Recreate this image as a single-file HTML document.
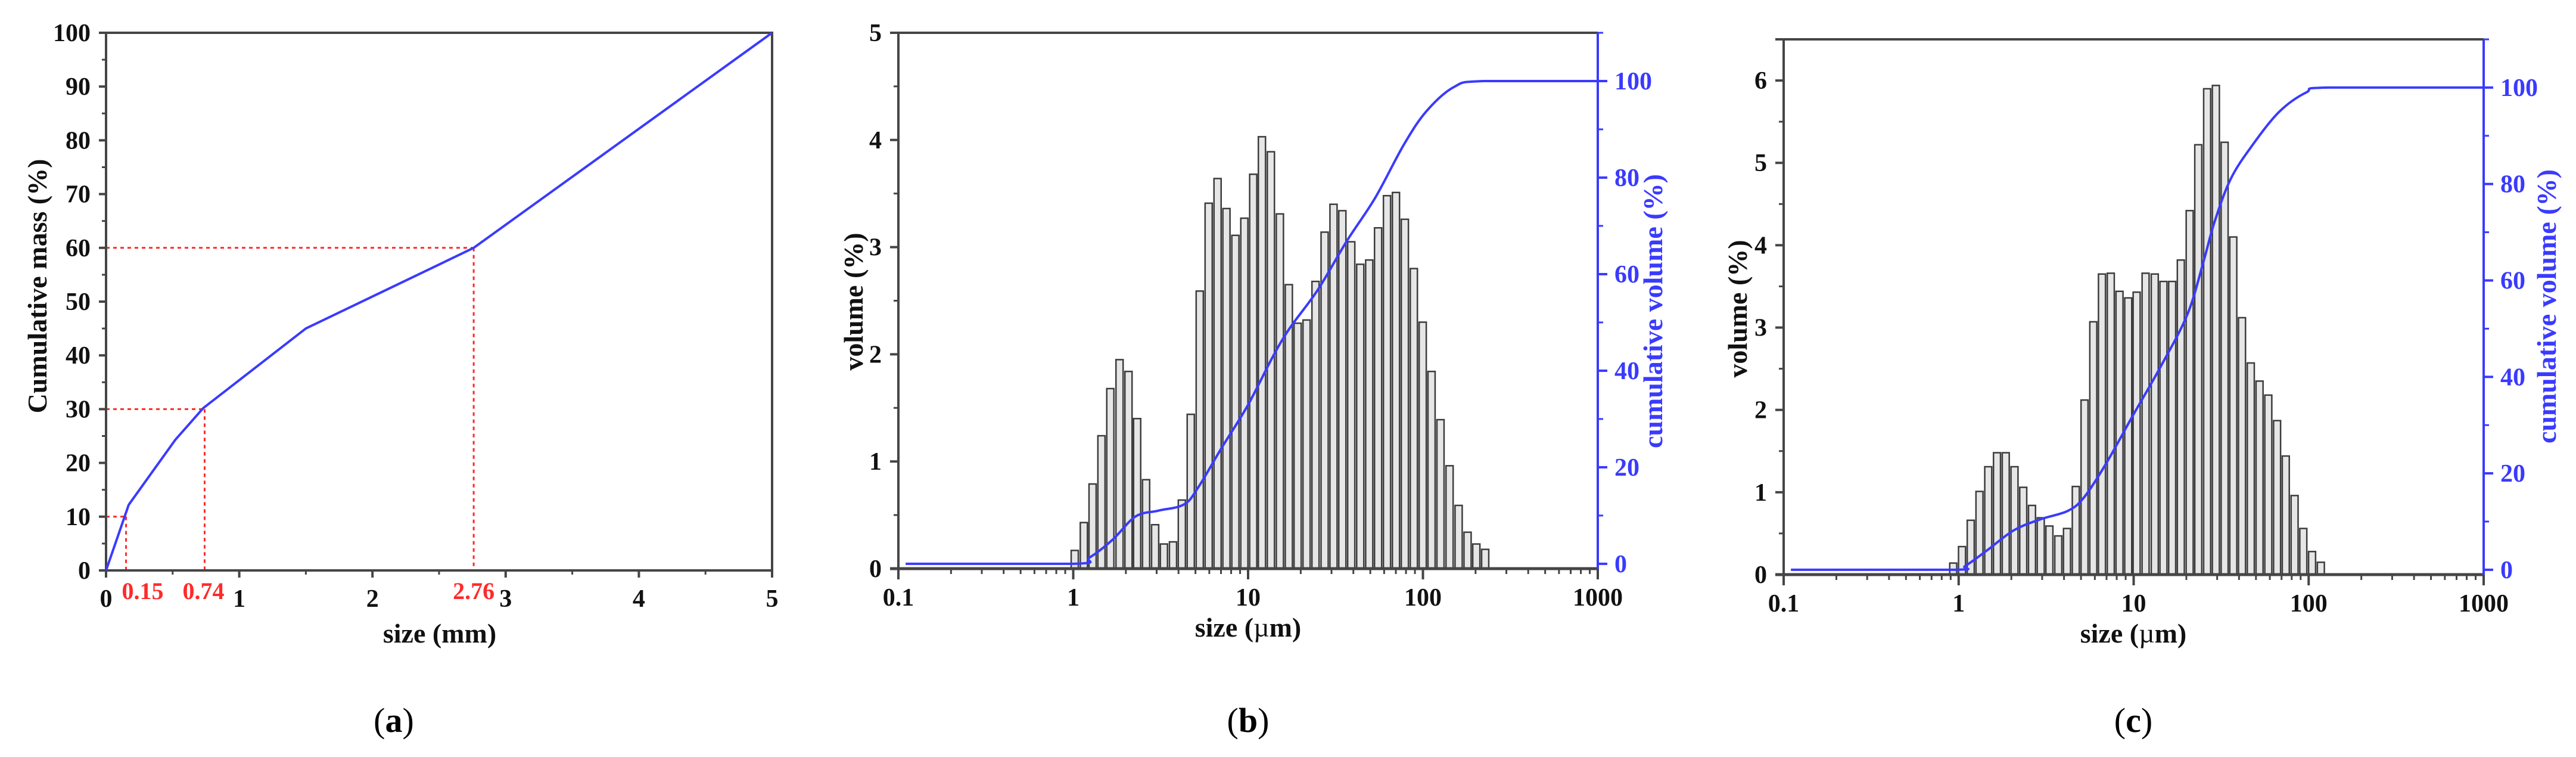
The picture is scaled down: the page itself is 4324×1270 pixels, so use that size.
<!DOCTYPE html>
<html><head><meta charset="utf-8"><style>
html,body{margin:0;padding:0;background:#fff;}
svg{display:block;font-family:"Liberation Serif",serif;}
</style></head><body>
<svg id="fig" width="4324" height="1270" viewBox="0 0 4324 1270" xmlns="http://www.w3.org/2000/svg">
<g id="pa"></g>
<g id="pb"></g>
<g id="pc"></g>
</svg>
<script>
// ---- Panel (a) data ----
const aSize = [0, 0.17, 0.52, 0.73, 1.5, 2.5, 2.76, 5];
const aMass = [0, 12.2, 24.3, 30.2, 45, 56.9, 60, 100];
const aMarkSize = [0.15, 0.74, 2.76];
const aMarkMass = [10, 30, 60];
const aXTicks = [0, 1, 2, 3, 4, 5];
const aYTicks = [0, 10, 20, 30, 40, 50, 60, 70, 80, 90, 100];

// ---- Panel (b) data ----
const bSizes = [1.02,1.15,1.29,1.45,1.63,1.84,2.07,2.32,2.61,2.94,3.30,3.72,4.18,4.70,5.29,5.95,6.69,7.52,8.46,9.52,10.7,12.0,13.5,15.2,17.1,19.2,21.6,24.3,27.4,30.8,34.6,38.9,43.8,49.3,55.4,62.3,70.1,78.8,88.7,99.7,112,126,142,160,180,202,227];
const bVolume = [0.17,0.43,0.79,1.24,1.68,1.95,1.84,1.40,0.83,0.41,0.23,0.25,0.64,1.44,2.59,3.41,3.64,3.36,3.11,3.27,3.68,4.03,3.89,3.31,2.65,2.29,2.32,2.68,3.14,3.40,3.34,3.05,2.84,2.88,3.18,3.48,3.51,3.26,2.80,2.30,1.84,1.39,0.96,0.59,0.34,0.23,0.18];
const bCumSize = [0.11,1,1.24,1.68,2.27,3.06,4.3,5.18,7.0,9.95,13.8,17.3,25.1,36.6,53.3,77.7,105,151,222,1000];
const bCumVal = [0,0,1.3,5,9.8,11,12.3,15.8,23.8,32.8,42.8,48.8,56.8,66.8,75.8,86.8,93.8,98.8,100,100];
const bYTicks = [0,1,2,3,4,5];

// ---- Panel (c) data ----
const cSizes = [0.931,1.045,1.172,1.315,1.476,1.656,1.858,2.085,2.339,2.625,2.945,3.30,3.71,4.16,4.67,5.24,5.88,6.59,7.40,8.30,9.31,10.4,11.7,13.2,14.8,16.6,18.6,20.9,23.4,26.3,29.5,33.1,37.1,41.6,46.7,52.4,58.8,66.0,74.0,83.1,93.2,104.6,117.4];
const cVolume = [0.14,0.34,0.66,1.01,1.31,1.48,1.48,1.31,1.06,0.84,0.69,0.59,0.47,0.56,1.07,2.12,3.07,3.65,3.66,3.44,3.36,3.43,3.66,3.65,3.56,3.56,3.82,4.42,5.22,5.90,5.94,5.25,4.10,3.12,2.57,2.35,2.18,1.87,1.44,0.96,0.56,0.28,0.15];
const cCumSize = [0.11,0.93,1.09,1.45,2.07,2.95,4.2,5.2,6.95,9.9,14.2,20.3,25.1,28.9,35.8,47.6,68,97,129,1000];
const cCumVal = [0,0,0.8,4,8.2,10.5,12.2,15,22,32,42,53,64,72,81,88,95,99,100,100];
const cYTicks = [0,1,2,3,4,5,6];

const logTicks = [0.1,1,10,100,1000];
const logTickLabels = ["0.1","1","10","100","1000"];
const rightTicks = [0,20,40,60,80,100];

const NS = "http://www.w3.org/2000/svg";
function mk(parent, tag, attrs, text){
  const e = document.createElementNS(NS, tag);
  for (const k in attrs) e.setAttribute(k, attrs[k]);
  if (text !== undefined) e.textContent = text;
  parent.appendChild(e);
  return e;
}
function smoothPath(P){
  let d = 'M' + P[0][0] + ',' + P[0][1];
  for (let i=0;i<P.length-1;i++){
    const p0 = P[Math.max(0,i-1)], p1 = P[i], p2 = P[i+1], p3 = P[Math.min(P.length-1,i+2)];
    let c1y = p1[1] + (p2[1]-p0[1])/6, c2y = p2[1] - (p3[1]-p1[1])/6;
    const lo = Math.min(p1[1],p2[1]), hi = Math.max(p1[1],p2[1]);
    c1y = Math.min(hi,Math.max(lo,c1y)); c2y = Math.min(hi,Math.max(lo,c2y));
    const c1x = p1[0] + (p2[0]-p0[0])/6, c2x = p2[0] - (p3[0]-p1[0])/6;
    d += ' C' + c1x + ',' + c1y + ' ' + c2x + ',' + c2y + ' ' + p2[0] + ',' + p2[1];
  }
  return d;
}
const AX = "#454545", BLUE = "#3a3aff", RED = "#ff2a2a";

// ================= Panel A =================
(function(){
  const g = document.getElementById('pa');
  const L=178, R=1296, T=55, B=957;
  const sx = v => L + (v-0)/(5-0)*(R-L);
  const sy = v => B - v/100*(B-T);
  aMarkSize.forEach((s,i)=>{
    const h = mk(g,'line',{x1:L,y1:sy(aMarkMass[i]),x2:sx(s),y2:sy(aMarkMass[i]),stroke:RED,'stroke-width':3,'stroke-dasharray':'6 6'});
    
    
    const v = mk(g,'line',{x1:sx(s),y1:sy(aMarkMass[i]),x2:sx(s),y2:B,stroke:RED,'stroke-width':3,'stroke-dasharray':'6 6'});
    
    
    const t = mk(g,'text',{x:sx(s)+(i===0?28:(i===1?-2:0)),y:1005,'text-anchor':'middle','font-size':40,'font-weight':'bold',fill:RED}, s.toFixed(2));
    
    
  });
  const fr = mk(g,'rect',{x:L,y:T,width:R-L,height:B-T,fill:'none',stroke:AX,'stroke-width':4});
  
  
  const pts = aSize.map((s,i)=>sx(s)+','+sy(aMass[i])).join(' ');
  const pl = mk(g,'polyline',{points:pts,fill:'none',stroke:BLUE,'stroke-width':4});
  
  
  aYTicks.forEach(v=>{
    mk(g,'line',{x1:L-12,y1:sy(v),x2:L,y2:sy(v),stroke:AX,'stroke-width':4});
    if (v<100) mk(g,'line',{x1:L-7,y1:sy(v+5),x2:L,y2:sy(v+5),stroke:AX,'stroke-width':3});
    const t = mk(g,'text',{x:L-26,y:sy(v)+14,'text-anchor':'end','font-size':42,'font-weight':'bold',fill:'#111'}, String(v));
    
    
  });
  aXTicks.forEach(v=>{
    mk(g,'line',{x1:sx(v),y1:B,x2:sx(v),y2:B+12,stroke:AX,'stroke-width':4});
    if (v<5) mk(g,'line',{x1:sx(v+0.5),y1:B,x2:sx(v+0.5),y2:B+7,stroke:AX,'stroke-width':3});
    const t = mk(g,'text',{x:sx(v),y:1018,'text-anchor':'middle','font-size':42,'font-weight':'bold',fill:'#111'}, String(v));
    
    
  });
  const xt = mk(g,'text',{x:738,y:1078,'text-anchor':'middle','font-size':46,'font-weight':'bold',fill:'#111'},'size (mm)');
  
  
  const yt = mk(g,'text',{x:0,y:0,transform:'translate(78,480) rotate(-90)','text-anchor':'middle','font-size':46,'font-weight':'bold',fill:'#111'},'Cumulative mass (%)');
  
  
  const cap = mk(g,'text',{x:661,y:1228,'text-anchor':'middle','font-size':58,fill:'#000'});
  cap.innerHTML = '(<tspan font-weight="bold">a</tspan>)';
  
  
})();

// ================= Panels B & C =================
function drawDist(g, cfg, sizes, vols, cumS, cumV, yTicks){
  const {L,R,T,B,ymax,rBot,step} = cfg;
  const sx = v => L + (Math.log10(v)+1)/4*(R-L);
  const sy = v => B - v/ymax*(B-T);
  const sr = v => rBot - (v+1)/111*(rBot-T);
  sizes.forEach((s,i)=>{
    const lc = Math.log10(s);
    const x1 = sx(Math.pow(10,lc-step*0.4)), x2 = sx(Math.pow(10,lc+step*0.4));
    const r = mk(g,'rect',{x:x1,y:sy(vols[i]),width:x2-x1,height:B-sy(vols[i]),fill:'#e6e6e6',stroke:'#3c3c3c','stroke-width':2.5});
    
    
  });
  mk(g,'line',{x1:L-14,y1:T,x2:R,y2:T,stroke:AX,'stroke-width':4});
  mk(g,'line',{x1:L,y1:T,x2:L,y2:B,stroke:AX,'stroke-width':4});
  const xa = mk(g,'line',{x1:L-14,y1:B,x2:R,y2:B,stroke:AX,'stroke-width':5});
  
  
  const ra = mk(g,'line',{x1:R,y1:T,x2:R,y2:B,stroke:BLUE,'stroke-width':4});
  
  
  const P = cumS.map((s,i)=>[sx(s), sr(cumV[i])]);
  const pl = mk(g,'path',{d:smoothPath(P),fill:'none',stroke:BLUE,'stroke-width':4,'stroke-linejoin':'round'});
  
  
  yTicks.forEach(v=>{
    mk(g,'line',{x1:L-14,y1:sy(v),x2:L,y2:sy(v),stroke:AX,'stroke-width':4});
    if (v+0.5<=ymax) mk(g,'line',{x1:L-8,y1:sy(v+0.5),x2:L,y2:sy(v+0.5),stroke:AX,'stroke-width':3});
    const t = mk(g,'text',{x:L-28,y:sy(v)+14,'text-anchor':'end','font-size':42,'font-weight':'bold',fill:'#111'}, String(v));
    
    
  });
  rightTicks.forEach(v=>{
    mk(g,'line',{x1:R,y1:sr(v),x2:R+16,y2:sr(v),stroke:BLUE,'stroke-width':4});
    mk(g,'line',{x1:R,y1:sr(v+10),x2:R+9,y2:sr(v+10),stroke:BLUE,'stroke-width':3});
    const t = mk(g,'text',{x:R+28,y:sr(v)+14,'text-anchor':'start','font-size':42,'font-weight':'bold',fill:BLUE}, String(v));
    
    
  });
  logTicks.forEach((v,i)=>{
    mk(g,'line',{x1:sx(v),y1:B,x2:sx(v),y2:B+18,stroke:AX,'stroke-width':4});
    if (i<4) for (let m=2;m<=9;m++) mk(g,'line',{x1:sx(v*m),y1:B,x2:sx(v*m),y2:B+9,stroke:AX,'stroke-width':3});
    const t = mk(g,'text',{x:sx(v),y:B+62,'text-anchor':'middle','font-size':42,'font-weight':'bold',fill:'#111'}, logTickLabels[i]);
    
    
  });
  const xt = mk(g,'text',{x:cfg.xtX,y:cfg.xtY,'text-anchor':'middle','font-size':46,'font-weight':'bold',fill:'#111'});
  xt.innerHTML = 'size (<tspan font-weight="normal">\u00b5</tspan>m)';
  
  
  const yt = mk(g,'text',{x:0,y:0,transform:`translate(${cfg.ylX},${cfg.ylY}) rotate(-90)`,'text-anchor':'middle','font-size':46,'font-weight':'bold',fill:'#111'},'volume (%)');
  
  
  const rt = mk(g,'text',{x:0,y:0,transform:`translate(${cfg.rlX},${cfg.rlY}) rotate(-90)`,'text-anchor':'middle','font-size':46,'font-weight':'bold',fill:BLUE},'cumulative volume (%)');
  
  
  const cap = mk(g,'text',{x:cfg.xtX,y:1228,'text-anchor':'middle','font-size':58,fill:'#000'});
  cap.innerHTML = '(<tspan font-weight="bold">'+cfg.cap+'</tspan>)';
  
  
}
drawDist(document.getElementById('pb'),
  {L:1508,R:2682,T:55,B:954,ymax:5,rBot:954,step:0.051,xtX:2095,xtY:1068,ylX:1448,ylY:506,rlX:2790,rlY:522,cap:'b'},
  bSizes,bVolume,bCumSize,bCumVal,bYTicks);
drawDist(document.getElementById('pc'),
  {L:2994,R:4169,T:66,B:964,ymax:6.5,rBot:964,step:0.05,xtX:3581,xtY:1078,ylX:2932,ylY:518,rlX:4290,rlY:514,cap:'c'},
  cSizes,cVolume,cCumSize,cCumVal,cYTicks);
</script>
</body></html>
